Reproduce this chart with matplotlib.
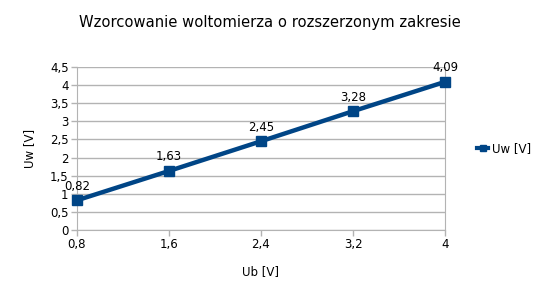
import matplotlib
matplotlib.use("Agg")
import matplotlib.pyplot as plt
from matplotlib.lines import Line2D

ub = [0.8, 1.6, 2.4, 3.2, 4.0]
uw = [0.82, 1.63, 2.45, 3.28, 4.09]
labels = ["0,82", "1,63", "2,45", "3,28", "4,09"]
xticks = [0.8, 1.6, 2.4, 3.2, 4.0]
xticklabels = ["0,8", "1,6", "2,4", "3,2", "4"]
yticks = [0, 0.5, 1, 1.5, 2, 2.5, 3, 3.5, 4, 4.5]
yticklabels = ["0", "0,5", "1", "1,5", "2", "2,5", "3", "3,5", "4", "4,5"]

color = "#004586"
plt.rcParams['font.family'] = ['DejaVu Sans']

fig = plt.figure(figsize=(5.4, 3.0), dpi=100)
ax = fig.add_axes([77/540, 1-230/300, (445-77)/540, (230-67)/300])

ax.plot(ub, uw, color=color, lw=3.2, marker='s', ms=7.5, zorder=3, clip_on=False)
for x, y, t in zip(ub, uw, labels):
    ax.annotate(t, (x, y), xytext=(0, 5.5), textcoords='offset points',
                ha='center', va='bottom', fontsize=8.5, color='black')

ax.set_xlim(0.8, 4.0)
ax.set_ylim(0, 4.5)
ax.set_xticks(xticks)
ax.set_xticklabels(xticklabels, fontsize=8.5)
ax.set_yticks(yticks)
ax.set_yticklabels(yticklabels, fontsize=8.5)
ax.yaxis.grid(True, color='#b3b3b3', lw=1)
ax.set_axisbelow(True)
ax.spines['top'].set_visible(False)
for s in ['bottom', 'left', 'right']:
    ax.spines[s].set_color('#b3b3b3')
ax.tick_params(axis='both', colors='#b3b3b3', labelcolor='black', length=4, width=1)
ax.tick_params(axis='x', pad=2)
ax.tick_params(axis='y', pad=2)

ax.set_xlabel("Ub [V]", fontsize=8.5, labelpad=10)
ax.set_ylabel("Uw [V]", fontsize=8.5, labelpad=10)

fig.text(0.5, 1-22/300, "Wzorcowanie woltomierza o rozszerzonym zakresie",
         ha='center', va='center', fontsize=10.6)

handle = Line2D([], [], color=color, lw=3, marker='s', ms=5)
fig.legend([handle], ["Uw [V]"], loc='center left', bbox_to_anchor=(466/540, 1-149/300),
           frameon=False, fontsize=8.5, handlelength=1.0, handletextpad=0.3)

fig.savefig("out.png", dpi=100, facecolor='white')
